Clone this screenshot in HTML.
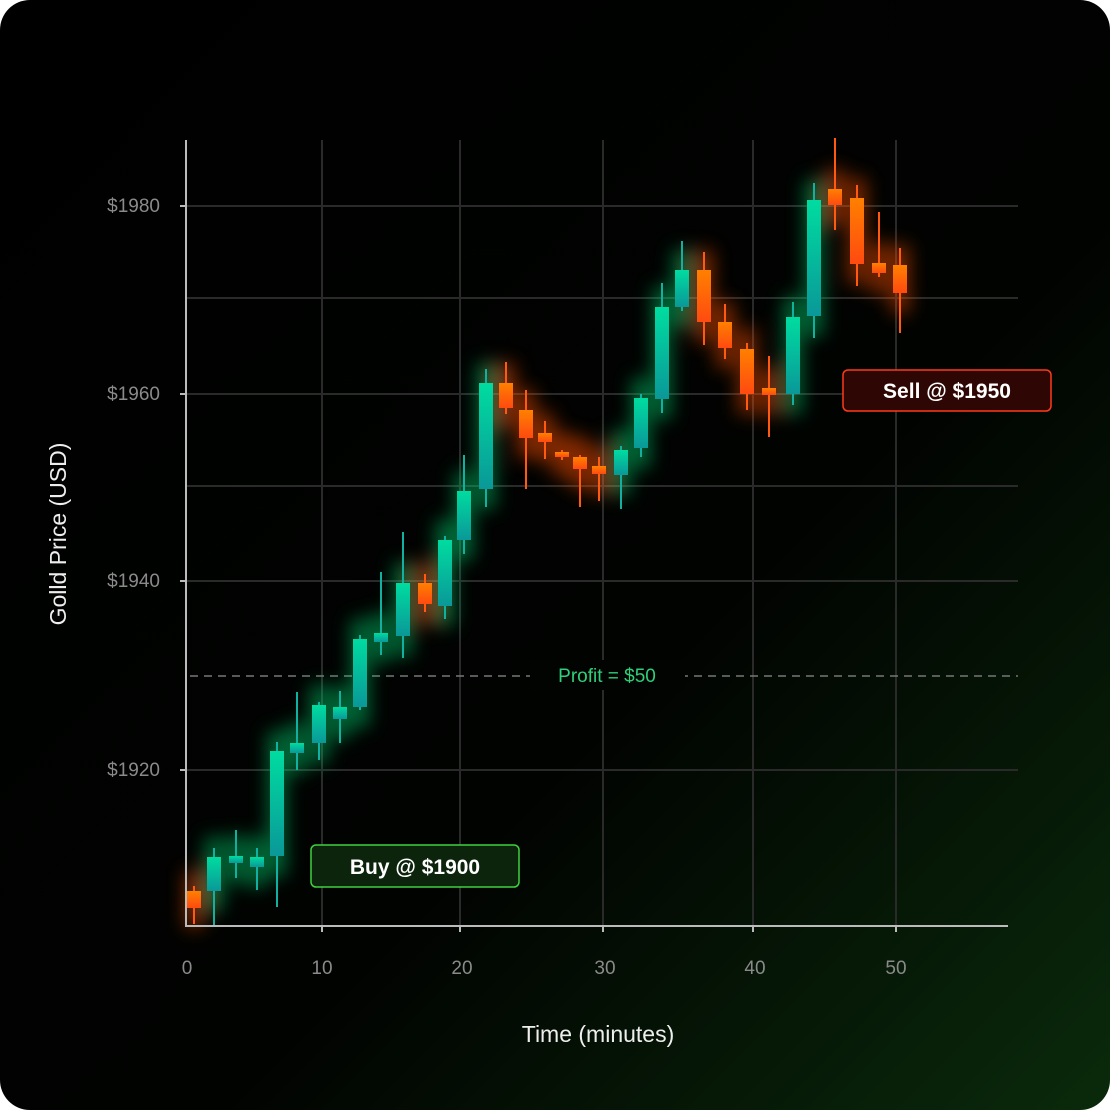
<!DOCTYPE html>
<html><head><meta charset="utf-8"><style>
html,body{margin:0;padding:0;background:#fff;}
svg{display:block;}
text{font-family:"Liberation Sans",sans-serif;}
</style></head><body>
<svg width="1110" height="1110" viewBox="0 0 1110 1110" xmlns="http://www.w3.org/2000/svg">
<defs>
<linearGradient id="bg" x1="0" y1="0" x2="1" y2="1">
<stop offset="0" stop-color="#000"/><stop offset="0.6" stop-color="#010301"/><stop offset="1" stop-color="#0a2a0b"/>
</linearGradient>
<linearGradient id="gg" x1="0" y1="0" x2="0" y2="1"><stop offset="0" stop-color="#00dca0"/><stop offset="1" stop-color="#0a9898"/></linearGradient>
<linearGradient id="rg" x1="0" y1="0" x2="0" y2="1"><stop offset="0" stop-color="#ff8000"/><stop offset="1" stop-color="#ff4a10"/></linearGradient>
<filter id="glow" x="-50%" y="-50%" width="200%" height="200%"><feGaussianBlur stdDeviation="9"/></filter>
</defs>
<rect x="0" y="0" width="1110" height="1110" rx="30" fill="url(#bg)"/>
<g stroke="#2a2a2a" stroke-width="2">
<line x1="186" y1="206" x2="1018" y2="206"/><line x1="186" y1="298" x2="1018" y2="298"/>
<line x1="186" y1="394" x2="1018" y2="394"/><line x1="186" y1="486" x2="1018" y2="486"/>
<line x1="186" y1="581" x2="1018" y2="581"/><line x1="186" y1="770" x2="1018" y2="770"/>
<line x1="322" y1="140" x2="322" y2="926"/><line x1="460" y1="140" x2="460" y2="926"/>
<line x1="603" y1="140" x2="603" y2="926"/><line x1="753" y1="140" x2="753" y2="926"/>
<line x1="896" y1="140" x2="896" y2="926"/>
</g>
<line x1="190" y1="676" x2="1018" y2="676" stroke="#777" stroke-width="1.5" stroke-dasharray="8,6"/>
<g filter="url(#glow)" opacity="0.5">
<g fill="#00d070">
<rect x="205" y="837" width="18" height="74"/><rect x="227" y="836" width="18" height="47"/><rect x="248" y="837" width="18" height="50"/>
<rect x="268" y="731" width="18" height="145"/><rect x="288" y="723" width="18" height="50"/><rect x="310" y="685" width="18" height="78"/>
<rect x="331" y="687" width="18" height="52"/><rect x="351" y="619" width="18" height="108"/><rect x="372" y="613" width="18" height="49"/>
<rect x="394" y="563" width="18" height="93"/><rect x="436" y="520" width="18" height="106"/><rect x="455" y="471" width="18" height="89"/>
<rect x="477" y="363" width="18" height="146"/><rect x="612" y="430" width="18" height="65"/><rect x="632" y="378" width="18" height="90"/>
<rect x="653" y="287" width="18" height="132"/><rect x="673" y="250" width="18" height="77"/><rect x="784" y="297" width="18" height="117"/>
<rect x="805" y="180" width="18" height="156"/>
</g>
<g fill="#ff5000">
<rect x="185" y="871" width="18" height="57"/><rect x="416" y="563" width="18" height="61"/><rect x="497" y="363" width="18" height="65"/>
<rect x="517" y="390" width="18" height="68"/><rect x="536" y="413" width="18" height="49"/><rect x="553" y="432" width="18" height="45"/>
<rect x="571" y="437" width="18" height="52"/><rect x="590" y="446" width="18" height="48"/><rect x="695" y="250" width="18" height="92"/>
<rect x="716" y="302" width="18" height="66"/><rect x="738" y="329" width="18" height="85"/><rect x="760" y="368" width="18" height="47"/>
<rect x="826" y="169" width="18" height="56"/><rect x="848" y="178" width="18" height="106"/><rect x="870" y="243" width="18" height="50"/>
<rect x="891" y="245" width="18" height="68"/>
</g>
</g>
<g fill="#12b0a0">
<rect x="213" y="848" width="2" height="78"/><rect x="235" y="830" width="2" height="48"/><rect x="256" y="848" width="2" height="42"/>
<rect x="276" y="742" width="2" height="165"/><rect x="296" y="692" width="2" height="78"/><rect x="318" y="702" width="2" height="58"/>
<rect x="339" y="691" width="2" height="52"/><rect x="359" y="635" width="2" height="75"/><rect x="380" y="572" width="2" height="83"/>
<rect x="402" y="532" width="2" height="126"/><rect x="444" y="536" width="2" height="83"/><rect x="463" y="455" width="2" height="99"/>
<rect x="485" y="369" width="2" height="138"/><rect x="620" y="446" width="2" height="63"/><rect x="640" y="394" width="2" height="63"/>
<rect x="661" y="283" width="2" height="130"/><rect x="681" y="241" width="2" height="70"/><rect x="792" y="302" width="2" height="103"/>
<rect x="813" y="183" width="2" height="155"/>
</g>
<g fill="url(#gg)">
<rect x="207" y="857" width="14" height="34"/><rect x="229" y="856" width="14" height="7"/><rect x="250" y="857" width="14" height="10"/>
<rect x="270" y="751" width="14" height="105"/><rect x="290" y="743" width="14" height="10"/><rect x="312" y="705" width="14" height="38"/>
<rect x="333" y="707" width="14" height="12"/><rect x="353" y="639" width="14" height="68"/><rect x="374" y="633" width="14" height="9"/>
<rect x="396" y="583" width="14" height="53"/><rect x="438" y="540" width="14" height="66"/><rect x="457" y="491" width="14" height="49"/>
<rect x="479" y="383" width="14" height="106"/><rect x="614" y="450" width="14" height="25"/><rect x="634" y="398" width="14" height="50"/>
<rect x="655" y="307" width="14" height="92"/><rect x="675" y="270" width="14" height="37"/><rect x="786" y="317" width="14" height="77"/>
<rect x="807" y="200" width="14" height="116"/>
</g>
<g fill="#ff5a10">
<rect x="193" y="886" width="2" height="38"/><rect x="424" y="574" width="2" height="38"/><rect x="505" y="362" width="2" height="52"/>
<rect x="525" y="390" width="2" height="99"/><rect x="544" y="421" width="2" height="38"/><rect x="561" y="450" width="2" height="10"/>
<rect x="579" y="455" width="2" height="52"/><rect x="598" y="457" width="2" height="44"/><rect x="703" y="252" width="2" height="93"/>
<rect x="724" y="304" width="2" height="55"/><rect x="746" y="343" width="2" height="67"/><rect x="768" y="356" width="2" height="81"/>
<rect x="834" y="138" width="2" height="92"/><rect x="856" y="185" width="2" height="101"/><rect x="878" y="212" width="2" height="65"/>
<rect x="899" y="248" width="2" height="85"/>
</g>
<g fill="url(#rg)">
<rect x="187" y="891" width="14" height="17"/><rect x="418" y="583" width="14" height="21"/><rect x="499" y="383" width="14" height="25"/>
<rect x="519" y="410" width="14" height="28"/><rect x="538" y="433" width="14" height="9"/><rect x="555" y="452" width="14" height="5"/>
<rect x="573" y="457" width="14" height="12"/><rect x="592" y="466" width="14" height="8"/><rect x="697" y="270" width="14" height="52"/>
<rect x="718" y="322" width="14" height="26"/><rect x="740" y="349" width="14" height="45"/><rect x="762" y="388" width="14" height="7"/>
<rect x="828" y="189" width="14" height="16"/><rect x="850" y="198" width="14" height="66"/><rect x="872" y="263" width="14" height="10"/>
<rect x="893" y="265" width="14" height="28"/>
</g>
<g stroke="#bbb" stroke-width="2">
<line x1="186" y1="140" x2="186" y2="927"/><line x1="185" y1="926" x2="1008" y2="926"/>
<line x1="180" y1="206" x2="186" y2="206"/><line x1="180" y1="394" x2="186" y2="394"/>
<line x1="180" y1="581" x2="186" y2="581"/><line x1="180" y1="770" x2="186" y2="770"/>
<line x1="322" y1="926" x2="322" y2="932"/><line x1="460" y1="926" x2="460" y2="932"/>
<line x1="603" y1="926" x2="603" y2="932"/><line x1="753" y1="926" x2="753" y2="932"/>
<line x1="896" y1="926" x2="896" y2="932"/>
</g>
<g fill="#8a8a8a" font-size="19" text-anchor="end">
<text x="160" y="212">$1980</text><text x="160" y="400">$1960</text>
<text x="160" y="587">$1940</text><text x="160" y="776">$1920</text>
</g>
<g fill="#8a8a8a" font-size="19" text-anchor="middle">
<text x="187" y="974">0</text><text x="322" y="974">10</text><text x="462" y="974">20</text>
<text x="605" y="974">30</text><text x="755" y="974">40</text><text x="896" y="974">50</text>
</g>
<text x="598" y="1042" fill="#eee" font-size="23" text-anchor="middle">Time (minutes)</text>
<text transform="translate(66,534) rotate(-90)" fill="#eee" font-size="23" text-anchor="middle">Golld Price (USD)</text>
<rect x="530" y="660" width="155" height="30" fill="#020402"/>
<text x="607" y="682" fill="#2fd07a" font-size="19" text-anchor="middle">Profit = $50</text>
<rect x="311" y="845" width="208" height="42" rx="5" fill="#0c240c" stroke="#3fd23f" stroke-width="1.5"/>
<text x="415" y="874" fill="#fff" font-size="21" font-weight="bold" text-anchor="middle">Buy @ $1900</text>
<rect x="843" y="370" width="208" height="41" rx="5" fill="#2e0704" stroke="#ff3a1a" stroke-width="1.5"/>
<text x="947" y="398" fill="#fff" font-size="21" font-weight="bold" text-anchor="middle">Sell @ $1950</text>
</svg>
</body></html>
